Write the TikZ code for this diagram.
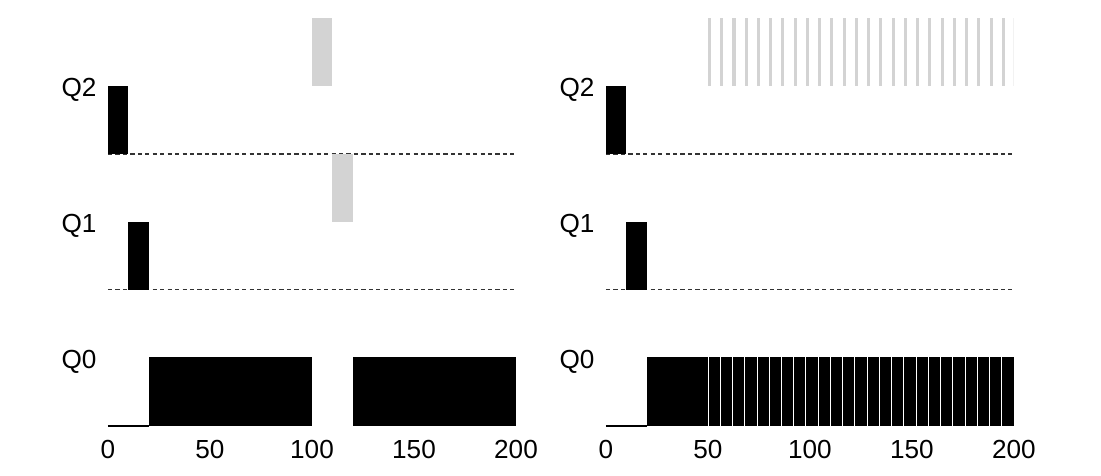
\documentclass[tikz,border=0pt]{standalone}
\usepackage{fontspec}
\setmainfont{Liberation Sans}
\definecolor{jobgray}{RGB}{211,211,211}

\begin{document}
\begin{tikzpicture}[x=0.051cm,y=0.025cm,font=\fontsize{18.6}{21}\selectfont,
  base/.style={dash pattern=on 3pt off 2.3pt,line width=0.75pt,black!80},
  run/.style={fill=black},
  other/.style={fill=jobgray}]
  \useasboundingbox (-52.94,-50) rectangle (486.76,426);
  % left panel: gray job boosted down by hand
  \begin{scope}
    \foreach \b/\q in {272/Q2,136/Q1,0/Q0}
      \node[anchor=east] (l\q) at (-3.2,\b+64) {\q};
    \draw[base] (0,272) -- (199,272);
    \draw[base] (0,136) -- (199,136);
    \draw[line width=1.2pt] (0,0) -- (20,0);
    \fill[run] (0,272) rectangle (10,340);
    \fill[run] (10,136) rectangle (20,204);
    \fill[run] (20,0) rectangle (100,69);
    \fill[run] (120,0) rectangle (200,69);
    \fill[other] (100,340) rectangle (110,408);
    \fill[other] (110,204) rectangle (120,272);
    \foreach \x in {0,50,100,150,200}
      \node (lt\x) at (\x,-24) {\x};
  \end{scope}
  % right panel: gaming the scheduler
  \begin{scope}[xshift=244.1*0.051cm]
    \foreach \b/\q in {272/Q2,136/Q1,0/Q0}
      \node[anchor=east] (r\q) at (-3.2,\b+64) {\q};
    \draw[base] (0,272) -- (199,272);
    \draw[base] (0,136) -- (199,136);
    \draw[line width=1.2pt] (0,0) -- (20,0);
    \fill[run] (0,272) rectangle (10,340);
    \fill[run] (10,136) rectangle (20,204);
    \fill[run] (20,0) rectangle (200,69);
    \foreach \k in {0,...,24} {
      \fill[other] (50+6*\k,340) rectangle (51.5+6*\k,408);
      \draw[white,line width=0.6pt] (50+6*\k,0) -- (50+6*\k,69);
    }
    \fill[jobgray!30] (199.6,340) rectangle (200,408);
    \foreach \x in {0,50,100,150,200}
      \node (rt\x) at (\x,-24) {\x};
  \end{scope}
\end{tikzpicture}
\end{document}
